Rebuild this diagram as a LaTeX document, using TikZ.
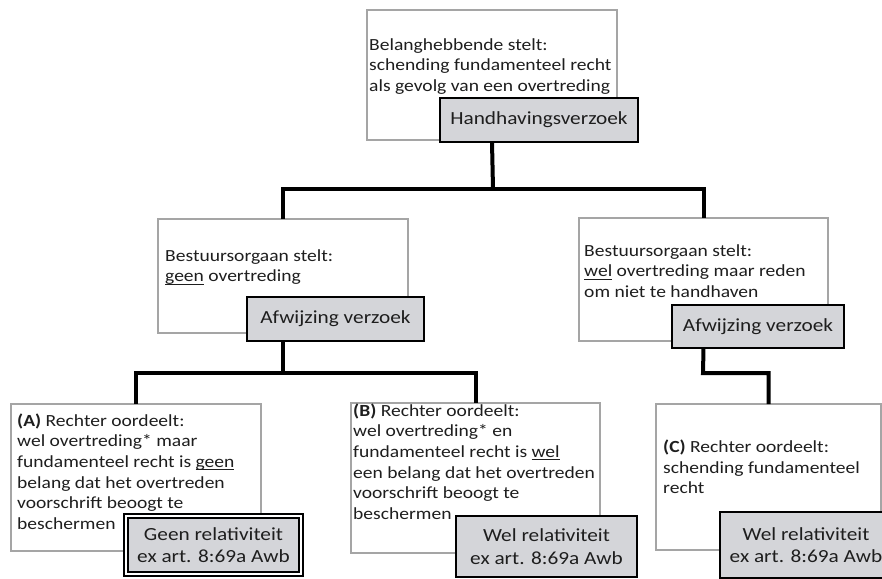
\documentclass[tikz,border=0pt]{standalone}
\usepackage{fontspec}
\setmainfont{Carlito}[FakeStretch=1.15]
\definecolor{boxgray}{RGB}{212,213,217}
\definecolor{edgegray}{RGB}{165,165,165}
\definecolor{ink}{RGB}{30,30,30}
\newsavebox\udlbox
\newcommand\udl[1]{\sbox\udlbox{#1}\rlap{\rule[-3pt]{\wd\udlbox}{1pt}}\usebox\udlbox}
\begin{document}
\begin{tikzpicture}[x=1pt,y=-1pt,
  wbox/.style={draw=edgegray, line width=1.2pt, fill=white, anchor=north west, inner sep=0pt, outer sep=0pt},
  gbox/.style={draw=black, line width=1.6pt, fill=boxgray, anchor=north west, inner sep=0pt, outer sep=0pt, align=center, font=\fontsize{18.5}{22.6}\selectfont, text=ink},
  wtext/.style={anchor=base west, inner sep=0pt, align=left, font=\fontsize{17}{20.7}\selectfont, text=ink},
  conn/.style={line width=4pt, draw=black}]
\useasboundingbox (0,0) rectangle (882,578);

% top
\node[wbox, minimum width=250pt, minimum height=130pt] (topbox) at (367,10) {};
\node[wtext] (toptext) at (369,91.4) {Belanghebbende stelt:\\schending fundamenteel recht\\als gevolg van een overtreding};
\node[gbox, minimum width=198pt, minimum height=44pt] (hv) at (440,98) {Handhavingsverzoek};

% middle left
\node[wbox, minimum width=250pt, minimum height=114pt] (ml) at (158,219) {};
\node[wtext] (mltext) at (165,281.7) {Bestuursorgaan stelt:\\\udl{geen} overtreding};
\node[gbox, minimum width=177pt, minimum height=44pt] (afwl) at (247,297) {Afwijzing verzoek};

% middle right
\node[wbox, minimum width=249pt, minimum height=123pt] (mr) at (579,218) {};
\node[wtext] (mrtext) at (584,297.4) {Bestuursorgaan stelt:\\\udl{wel} overtreding maar reden\\om niet te handhaven};
\node[gbox, minimum width=172pt, minimum height=43pt] (afwr) at (672,305) {Afwijzing verzoek};

% A
\node[wbox, minimum width=250pt, minimum height=147pt] (ba) at (11,404) {};
\node[wtext] (batext) at (17,529.5) {\textbf{(A)} Rechter oordeelt:\\wel overtreding* maar\\fundamenteel recht is \udl{geen}\\belang dat het overtreden\\voorschrift beoogt te\\beschermen};
\node[gbox, double, double distance=2.5pt, line width=2pt, minimum width=175pt, minimum height=58pt] (geen) at (126,516) {Geen relativiteit\\ex art. 8:69a Awb};

% B
\node[wbox, minimum width=249pt, minimum height=150pt] (bb) at (351,403) {};
\node[wtext] (bbtext) at (353,519.5) {\textbf{(B)} Rechter oordeelt:\\wel overtreding* en\\fundamenteel recht is \udl{wel}\\een belang dat het overtreden\\voorschrift beoogt te\\beschermen};
\node[gbox, minimum width=181pt, minimum height=61pt] (welb) at (456,516) {Wel relativiteit\\ex art. 8:69a Awb};

% C
\node[wbox, minimum width=225pt, minimum height=146pt] (bc) at (656,404) {};
\node[wtext] (bctext) at (663,493.9) {\textbf{(C)} Rechter oordeelt:\\schending fundamenteel\\recht};
\node[gbox, minimum width=172pt, minimum height=66pt] (welc) at (720,512) {Wel relativiteit\\ex art. 8:69a Awb};

% connectors
\coordinate (j1) at (493,189);
\coordinate (j2) at (283,373);
\coordinate (j3) at (703,373);
\draw[conn] (hv.south -| topbox.south) -- (j1);
\draw[conn] (ml.north) -- (ml.north |- j1) -- (mr.north |- j1) -- (mr.north);
\draw[conn] (afwl.south -| ml.south) -- (j2);
\draw[conn] (ba.north) -- (ba.north |- j2) -- (bb.north |- j2) -- (bb.north);
\draw[conn] (afwr.south -| mr.south) -- (j3) -- (bc.north |- j3) -- (bc.north);
\end{tikzpicture}
\end{document}
